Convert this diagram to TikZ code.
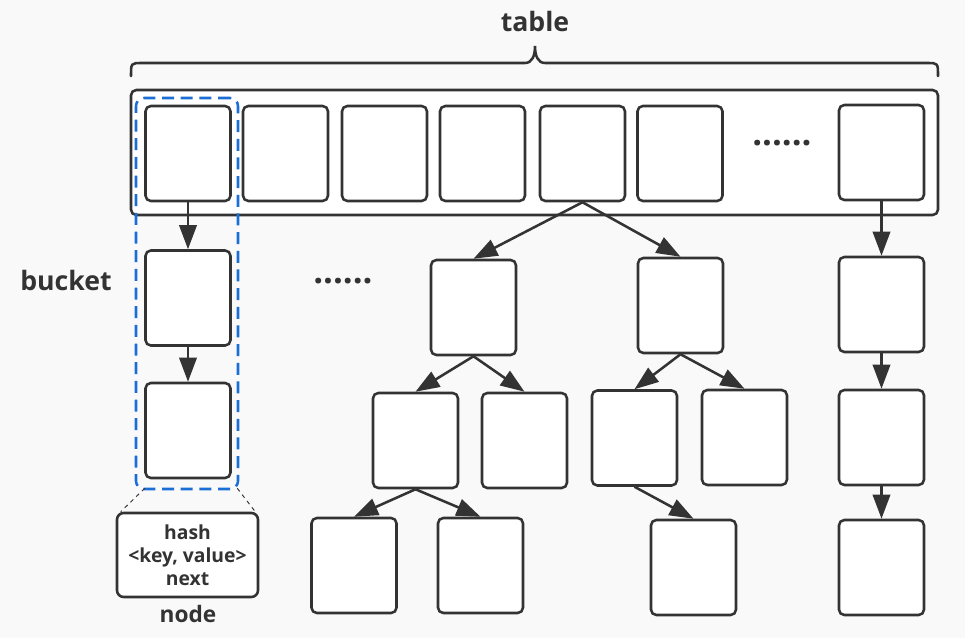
\documentclass[tikz,border=0pt]{standalone}
\usepackage{fontspec}
\setmainfont{Open Sans}
\usetikzlibrary{arrows.meta,calc}
\definecolor{ink}{HTML}{333333}
\definecolor{bg}{HTML}{F9F9F9}
\definecolor{bucketblue}{HTML}{1A6ED6}
\begin{document}
\begin{tikzpicture}[x=0.75pt,y=-0.75pt,
  box/.style={draw=ink, fill=white, line width=1.9pt, rounded corners=4pt,
    minimum width=63.75pt, minimum height=71.25pt, inner sep=0pt},
  link/.style={draw=ink, line width=1.9pt, -{Triangle[length=18pt,width=13pt]}},
  heading/.style={text=ink, font=\bfseries\fontsize{20}{23}\selectfont, inner sep=0pt},
  ellipsis/.style={text=ink, font=\bfseries\fontsize{26}{26}\selectfont, inner sep=0pt},
  zoomline/.style={draw=ink, line width=0.7pt, dash pattern=on 3pt off 3pt}
]
% canvas
\fill[bg] (0,0) rectangle (965,638);
\useasboundingbox (0,0) rectangle (965,638);

% brace over the table
\draw[ink, line width=1.9pt, line cap=round]
  (131,76) .. controls (131,63) .. (142,63) -- (525,63)
  .. controls (532,63) and (535,56) .. (535,46)
  .. controls (535,56) and (538,63) .. (545,63) -- (927,63)
  .. controls (938,63) .. (938,76);
\node[heading] (tablelabel) at (535,22) {table};

% the table and its slots
\node[draw=ink, fill=white, line width=1.9pt, rounded corners=4pt,
  minimum width=605.25pt, minimum height=93.75pt, inner sep=0pt]
  (table) at (534.5,152.5) {};
\node[box] (c1) at (188,153.5) {};
\node[box] (c2) at (285.5,153.5) {};
\node[box] (c3) at (384.5,153.5) {};
\node[box] (c4) at (482.5,153.5) {};
\node[box] (c5) at (582.5,153.5) {};
\node[box] (c6) at (680,153.5) {};
\node[ellipsis] (tabledots) at (782,143) {......};
\node[box] (c7) at (881.5,152.5) {};

% bucket as a linked list
\node[box] (b1) at (188,298) {};
\node[box] (b2) at (188,430.5) {};
\draw[link] (c1.south) -- (b1.north);
\draw[link] (b1.south) -- (b2.north);
\node[draw=bucketblue, line width=1.9pt, rounded corners=6pt,
  dash pattern=on 9pt off 5pt, minimum width=76.5pt, minimum height=293.25pt,
  inner sep=0pt] (bucketbox) at (187,293.5) {};
\node[heading] (bucketlabel) at (66,281) {bucket};

\node[ellipsis] (middots) at (343,281) {......};

% bucket as a tree
\node[box] (t1) at (473.5,307.5) {};
\node[box] (t2) at (680.5,305.5) {};
\node[box] (tA) at (415.5,440.5) {};
\node[box] (tB) at (524.5,440.5) {};
\node[box] (tC) at (634.5,438) {};
\node[box] (tD) at (744.5,437.5) {};
\node[box] (tE) at (354,565.5) {};
\node[box] (tF) at (480.5,565.5) {};
\node[box] (tG) at (693.5,567.5) {};
\draw[link] (c5.south) -- (t1.north);
\draw[link] (c5.south) -- (t2.north);
\draw[link] (t1.south) -- (tA.north);
\draw[link] (t1.south) -- (tB.north);
\draw[link] (t2.south) -- (tC.north);
\draw[link] (t2.south) -- (tD.north);
\draw[link] (tA.south) -- (tE.north);
\draw[link] (tA.south) -- (tF.north);
\draw[link] (tC.south) -- (tG.north);

% last bucket as a linked list
\node[box] (r1) at (881.5,304.5) {};
\node[box] (r2) at (881.5,437.5) {};
\node[box] (r3) at (881.5,567.5) {};
\draw[link] (c7.south) -- (r1.north);
\draw[link] (r1.south) -- (r2.north);
\draw[link] (r2.south) -- (r3.north);

% node detail
\node[draw=ink, fill=white, line width=1.9pt, rounded corners=5pt,
  minimum width=105.75pt, minimum height=63pt, inner sep=0pt,
  text=ink, align=center, font=\bfseries\fontsize{14.5}{17.25}\selectfont]
  (nodebox) at (187.5,555) {hash\\<key, value>\\next};
\node[heading, font=\bfseries\fontsize{17}{20}\selectfont] (nodelabel) at (188,614) {node};
\coordinate (zl) at ($(bucketbox.south west)+(10,-2)$);
\coordinate (zr) at ($(bucketbox.south east)+(-2,-2)$);
\draw[zoomline] (zl) -- ($(nodebox.north west)+(5,0)$);
\draw[zoomline] (zr) -- ($(nodebox.north east)+(-4,0)$);
\end{tikzpicture}
\end{document}
